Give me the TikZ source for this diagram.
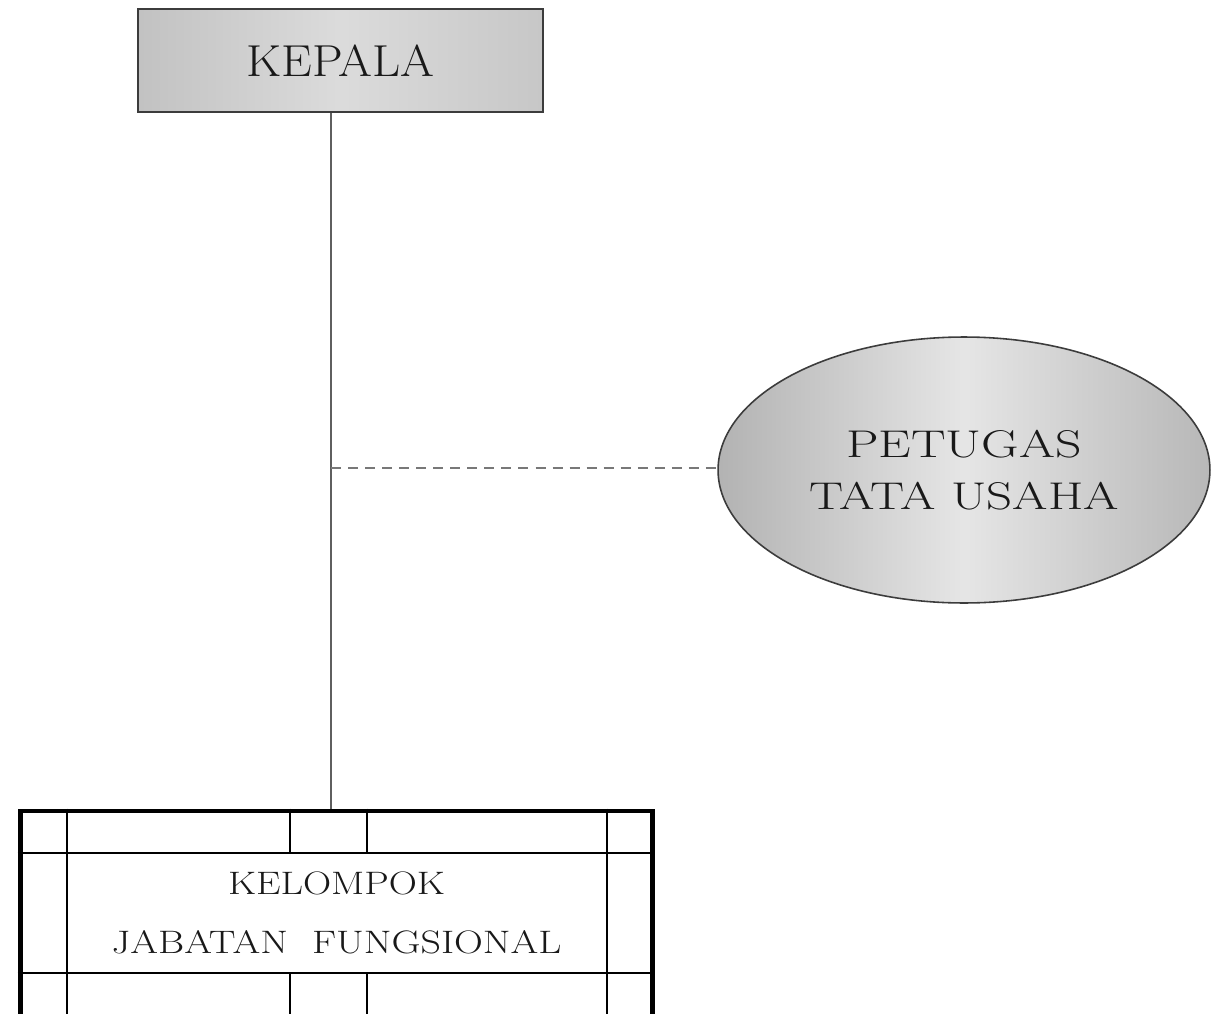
\documentclass[tikz,border=0pt]{standalone}
\usetikzlibrary{shapes.geometric}
\definecolor{linegray}{RGB}{95,95,95}
\definecolor{dashgray}{RGB}{120,120,120}
\definecolor{boxedge}{RGB}{60,60,60}
\definecolor{ink}{RGB}{25,25,25}
\tikzset{
  headbox/.style={draw=boxedge, line width=1.1pt, rectangle, inner sep=0pt,
    minimum width=8.1cm, minimum height=2.06cm,
    left color=black!24, right color=black!22, middle color=black!14,
    text=ink, font=\fontsize{25.5pt}{30pt}\selectfont},
  staffoval/.style={draw=boxedge, line width=0.9pt, ellipse, inner sep=0pt,
    minimum width=9.84cm, minimum height=5.32cm,
    left color=black!30, right color=black!28, middle color=black!10,
    text=ink, align=center, font=\fontsize{22pt}{30pt}\selectfont},
  groupbox/.style={draw=black, line width=2.8pt, rectangle, inner sep=0pt,
    minimum width=12.66cm, minimum height=4.14cm},
  gridline/.style={draw=black, line width=1.4pt},
  grouptext/.style={text=ink, align=center, inner sep=0pt,
    font=\fontsize{18.5pt}{34pt}\selectfont},
  mainline/.style={draw=linegray, line width=1.1pt},
  staffline/.style={draw=dashgray, line width=1.1pt, dash pattern=on 5.7pt off 4pt}
}
\begin{document}
\begin{tikzpicture}[x=0.02cm, y=-0.02cm]
\useasboundingbox (0,0) rectangle (1211,1014);
\clip (0,0) rectangle (1211,1014);
\fill[white] (0,0) rectangle (1211,1014);

\node[headbox] (kepala) at (340.5,60.5) {\scalebox{1.09}[1]{KEPALA}};
\node[staffoval] (petugas) at (964,470)
  {\scalebox{1.34}[1]{PETUGAS}\\\scalebox{1.32}[1]{TATA USAHA}};
\node[groupbox] (kjf) at (336.5,914.5) {};
\node[grouptext] (kjftext) at (336.5,913)
  {\scalebox{1.2}[1]{KELOMPOK}\\\scalebox{1.23}[1]{JABATAN\ \ FUNGSIONAL}};

% inner grid of the group box
\path[gridline] (kjf.west |- 0,853) -- (kjf.east |- 0,853);
\path[gridline] (kjf.west |- 0,973) -- (kjf.east |- 0,973);
\path[gridline] (67,0 |- kjf.north) -- (67,0 |- kjf.south);
\path[gridline] (607,0 |- kjf.north) -- (607,0 |- kjf.south);
\path[gridline] (290,0 |- kjf.north) -- (290,853);
\path[gridline] (367,0 |- kjf.north) -- (367,853);
\path[gridline] (290,973) -- (290,0 |- kjf.south);
\path[gridline] (367,973) -- (367,0 |- kjf.south);

% connectors
\coordinate (junction) at (331,468);
\path[mainline] (kepala.south -| junction) -- (junction) -- (junction |- kjf.north);
\path[staffline] (junction) -- (junction -| petugas.west);
\end{tikzpicture}
\end{document}
